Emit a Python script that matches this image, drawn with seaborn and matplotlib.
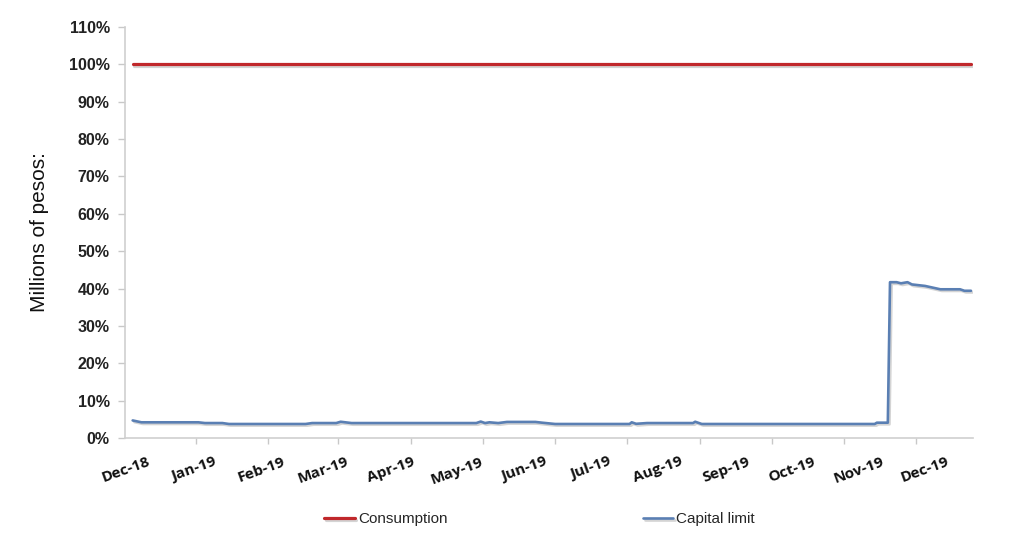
import matplotlib
matplotlib.use("Agg")
import matplotlib.pyplot as plt
import matplotlib.dates as mdates
import matplotlib.patheffects as pe
from matplotlib.ticker import FuncFormatter
import seaborn as sns
import pandas as pd

# ---- data ----
consumption_dates = ["2018-12-04", "2019-12-22"]
consumption_values = [100, 100]

capital_dates = [
    "2018-12-04", "2018-12-08", "2019-01-03", "2019-01-06", "2019-01-14", "2019-01-17",
    "2019-02-21", "2019-02-24", "2019-03-07", "2019-03-09", "2019-03-14", "2019-05-10",
    "2019-05-12", "2019-05-14", "2019-05-16", "2019-05-20", "2019-05-24", "2019-06-06",
    "2019-06-09", "2019-06-15", "2019-07-19", "2019-07-20", "2019-07-22", "2019-07-27",
    "2019-08-17", "2019-08-18", "2019-08-21", "2019-11-08", "2019-11-09", "2019-11-14",
    "2019-11-15", "2019-11-18", "2019-11-20", "2019-11-23", "2019-11-25", "2019-12-01",
    "2019-12-08", "2019-12-17", "2019-12-19", "2019-12-22",
]
capital_values = [
    4.7, 4.2, 4.2, 4.0, 4.0, 3.75,
    3.75, 4.0, 4.0, 4.35, 4.0, 4.0,
    4.4, 4.0, 4.2, 4.0, 4.3, 4.3,
    4.1, 3.75, 3.75, 4.2, 3.8, 4.0,
    4.0, 4.35, 3.75, 3.75, 4.1, 4.1,
    41.7, 41.7, 41.4, 41.7, 41.1, 40.7,
    39.8, 39.8, 39.4, 39.4,
]

month_labels = ["Dec-18", "Jan-19", "Feb-19", "Mar-19", "Apr-19", "May-19", "Jun-19",
                "Jul-19", "Aug-19", "Sep-19", "Oct-19", "Nov-19", "Dec-19"]
month_label_dates = pd.date_range("2018-12-01", periods=13, freq="MS")
tick_mark_dates = ["2019-01-02", "2019-02-04", "2019-03-08", "2019-04-10", "2019-05-13",
                   "2019-06-15", "2019-07-18", "2019-08-20", "2019-09-22", "2019-10-25",
                   "2019-11-27"]
y_ticks = list(range(0, 111, 10))

# ---- plot ----
sns.set_theme(style="white")
plt.rcParams["font.family"] = ["Liberation Sans", "DejaVu Sans"]

fig = plt.figure(figsize=(10.24, 5.53), dpi=100)
ax = fig.add_axes([125 / 1024, 1 - 438 / 553, (973 - 125) / 1024, (438 - 27) / 553])

red = "#C0282B"
blue = "#5A7FB3"
shadow = [pe.SimpleLineShadow(offset=(1.2, -1.2), alpha=0.25, shadow_color="#555555"), pe.Normal()]

sns.lineplot(x=pd.to_datetime(consumption_dates), y=consumption_values, ax=ax,
             color=red, linewidth=2.3, label="Consumption", path_effects=shadow)
sns.lineplot(x=pd.to_datetime(capital_dates), y=capital_values, ax=ax,
             color=blue, linewidth=1.9, label="Capital limit", path_effects=shadow)

ax.set_ylim(0, 110)
ax.set_yticks(y_ticks)
ax.yaxis.set_major_formatter(FuncFormatter(lambda v, p: f"{v:.0f}%"))
for lab in ax.get_yticklabels():
    lab.set_fontweight("bold")
ax.tick_params(axis="y", labelsize=11.5, labelcolor="#222222", length=5, width=1,
               color="#C8C8C8", direction="out", left=True, pad=6)

ax.set_xlim(pd.Timestamp("2018-11-30 12:00"), pd.Timestamp("2019-12-22 22:00"))
ax.set_xticks(month_label_dates)
ax.set_xticklabels(month_labels, rotation=20, ha="center",
                   fontfamily=["Open Sans", "DejaVu Sans"], fontweight="bold")
ax.tick_params(axis="x", which="major", length=0, pad=12, labelsize=11, labelcolor="#111111")
ax.set_xticks(pd.to_datetime(tick_mark_dates), minor=True)
ax.tick_params(axis="x", which="minor", length=4, width=1, color="#C8C8C8",
               direction="out", bottom=True)

for s in ["top", "right"]:
    ax.spines[s].set_visible(False)
for s in ["left", "bottom"]:
    ax.spines[s].set_color("#CFCFCF")
    ax.spines[s].set_linewidth(1.2)

ax.set_xlabel("")
ax.set_ylabel("Millions of pesos:", fontsize=15, color="#111111", labelpad=14)

ax.get_legend().remove()
handles, labels = ax.get_legend_handles_labels()
fig.legend(handles, labels, loc="center", bbox_to_anchor=(0.527, 0.061), ncol=2,
           frameon=False, fontsize=11, handlelength=2.0, handletextpad=0.2,
           columnspacing=12.8)

fig.savefig("out.png", dpi=100)
